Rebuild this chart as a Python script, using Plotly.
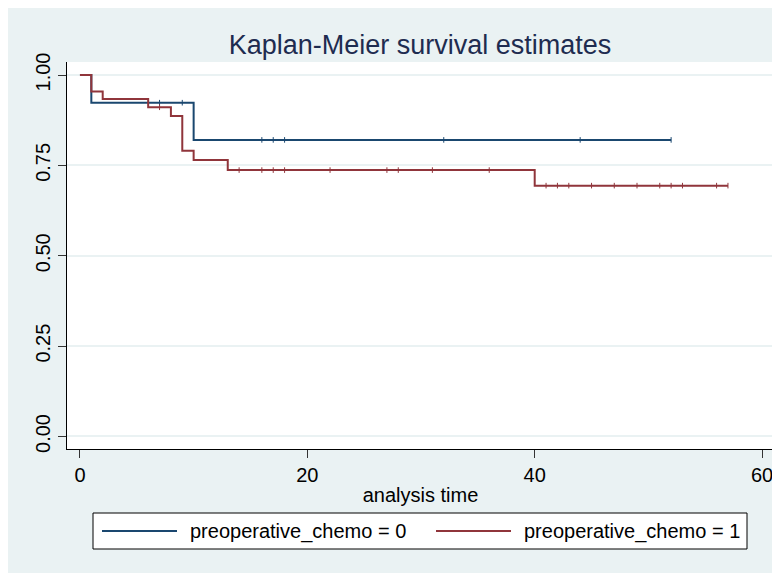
import plotly.graph_objects as go

# ---- data ----
group_names = ["preoperative_chemo = 0", "preoperative_chemo = 1"]

# step points (time, survival) for each group
times_g0 = [0, 1, 10, 52]
surv_g0 = [1.0, 0.9234, 0.8205, 0.8205]

times_g1 = [0, 1, 2, 6, 8, 9, 10, 13, 40, 57]
surv_g1 = [1.0, 0.9545, 0.9333, 0.9108, 0.8866, 0.7905, 0.7650, 0.7370, 0.6940, 0.6940]

# censoring times
cens_g0 = [7, 9, 16, 17, 18, 32, 44, 52]
cens_g1 = [7, 14, 16, 17, 18, 22, 27, 28, 31, 36, 41, 42, 43, 45, 47, 49, 51, 52, 53, 56, 57]

x_ticks = [0, 20, 40, 60]
y_ticks = [0.0, 0.25, 0.5, 0.75, 1.0]

colors = ["#1a476f", "#90353b"]
FONT = "Liberation Sans, Arial, Helvetica, sans-serif"


def step_value(times, surv, t):
    v = surv[0]
    for ti, si in zip(times, surv):
        if ti <= t:
            v = si
    return v


fig = go.Figure()
series = [(times_g0, surv_g0, cens_g0), (times_g1, surv_g1, cens_g1)]
for i, (tt, ss, cc) in enumerate(series):
    fig.add_trace(go.Scatter(
        x=tt, y=ss, mode="lines", line=dict(shape="hv", color=colors[i], width=2),
        name=group_names[i], showlegend=False, hoverinfo="skip"))
    fig.add_trace(go.Scatter(
        x=cc, y=[step_value(tt, ss, c) for c in cc], mode="markers",
        marker=dict(symbol="line-ns", size=4, line=dict(color=colors[i], width=1)),
        showlegend=False, hoverinfo="skip"))

# ---- layout geometry (page pixels; the page body has an 8px margin) ----
OFF = 8
W, H = 780, 573
L, R, T, B = 67 - OFF, 774 - OFF, 62 - OFF, 449 - OFF


def px(x):
    return (x - OFF - L) / (R - L)


def py(y):
    return (B - (y - OFF)) / (B - T)


shapes = [
    # legend box
    dict(type="rect", xref="paper", yref="paper", x0=px(93), x1=px(747), y0=py(549), y1=py(513),
         fillcolor="white", line=dict(color="black", width=1)),
]
annotations = []
leg_y = 531
leg_items = [(102, 177, 188), (436, 511, 522)]
for i, (lx0, lx1, tx) in enumerate(leg_items):
    shapes.append(dict(type="line", xref="paper", yref="paper", x0=px(lx0), x1=px(lx1),
                       y0=py(leg_y), y1=py(leg_y), line=dict(color=colors[i], width=2)))
    annotations.append(dict(text=group_names[i], xref="paper", yref="paper", x=px(tx), y=py(leg_y),
                            xanchor="left", yanchor="middle", showarrow=False,
                            font=dict(family=FONT, size=20, color="black")))

fig.update_layout(
    width=W, height=H,
    margin=dict(l=L, r=W - R, t=T, b=H - B, autoexpand=False),
    paper_bgcolor="#EAF2F3",
    plot_bgcolor="white",
    font=dict(family=FONT, size=20, color="black"),
    title=dict(text="Kaplan-Meier survival estimates", x=px(420), xref="paper", xanchor="center",
               y=1 - (45 - OFF) / H, yref="container", yanchor="middle",
               font=dict(family=FONT, size=27, color="#1e2c50")),
    xaxis=dict(range=[-1.14, 61.05], tickvals=x_ticks, showgrid=False, zeroline=False,
               showline=True, linecolor="black", linewidth=1, ticks="outside", ticklen=8,
               tickcolor="#333333", tickfont=dict(size=20), automargin=False,
               title=dict(text="analysis time", standoff=2, font=dict(size=20))),
    yaxis=dict(range=[-0.0346, 1.036], tickvals=y_ticks, tickformat=".2f", tickangle=-90,
               showgrid=True, gridcolor="#EAF2F3", gridwidth=2, zeroline=False,
               showline=True, linecolor="black", linewidth=1, ticks="outside", ticklen=8,
               tickcolor="#333333", tickfont=dict(size=20), automargin=False),
    shapes=shapes,
    annotations=annotations,
    showlegend=False,
)

fig.write_html("out.html")
